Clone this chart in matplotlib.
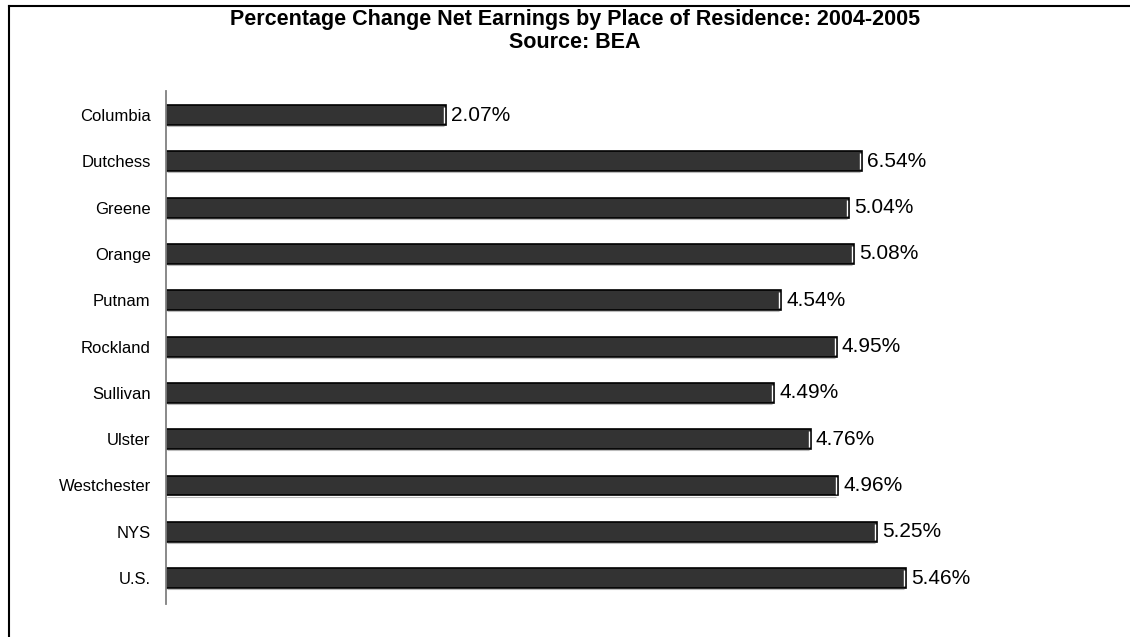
import matplotlib
matplotlib.use("Agg")
import matplotlib.pyplot as plt
from matplotlib.lines import Line2D

# ---- data ----
categories = ["Columbia", "Dutchess", "Greene", "Orange", "Putnam", "Rockland",
              "Sullivan", "Ulster", "Westchester", "NYS", "U.S."]
label_values = [2.07, 6.54, 5.04, 5.08, 4.54, 4.95, 4.49, 4.76, 4.96, 5.25, 5.46]
# drawn bar lengths as they appear in the picture (Dutchess bar is drawn shorter than its label)
bar_values = [2.07, 5.14, 5.04, 5.08, 4.54, 4.95, 4.49, 4.76, 4.96, 5.25, 5.46]
title_lines = ["Percentage Change Net Earnings by Place of Residence: 2004-2005", "Source: BEA"]

plt.rcParams['font.family'] = ['Liberation Sans', 'DejaVu Sans']

W, H = 1130, 637
fig = plt.figure(figsize=(W / 100, H / 100), dpi=100)
fig.patch.set_facecolor("white")

ax_left, ax_right, ax_top, ax_bottom = 166, 1100, 91, 604
ax = fig.add_axes([ax_left / W, 1 - ax_bottom / H, (ax_right - ax_left) / W, (ax_bottom - ax_top) / H])
ax.set_xlim(0, (ax_right - ax_left) / 135.5)
ax.set_ylim(10.56, -0.52)

ypos = list(range(len(categories)))
h = 0.43
ax.barh(ypos, bar_values, height=h, color="#333333", edgecolor="black", linewidth=1.2, zorder=2)

px = 1 / 135.5
for y, v, lab in zip(ypos, bar_values, label_values):
    # bevel highlight on right edge and bottom edge
    ax.plot([v - 2.2 * px, v - 2.2 * px], [y - h / 2 + 0.04, y + h / 2 - 0.04],
            color="white", lw=1.0, zorder=3, solid_capstyle="butt")
    ax.plot([0.01, v - 2.2 * px], [y + h / 2 + 0.025, y + h / 2 + 0.025],
            color="#bbbbbb", lw=0.8, zorder=3, solid_capstyle="butt")
    ax.text(v + 5 * px, y, f"{lab:.2f}%", va="center", ha="left", fontsize=15, color="black")

ax.set_yticks(ypos)
ax.set_yticklabels(categories, fontsize=12)
ax.tick_params(axis="y", length=0, pad=11)
ax.set_xticks([])
for s in ["top", "right", "bottom"]:
    ax.spines[s].set_visible(False)
ax.spines["left"].set_color("#808080")
ax.spines["left"].set_linewidth(1.3)

fig.text(575 / W, 1 - 19 / H, title_lines[0], ha="center", va="center",
         fontsize=15.5, fontweight="bold")
fig.text(575 / W, 1 - 42 / H, title_lines[1], ha="center", va="center",
         fontsize=15.5, fontweight="bold")

# outer chart border (right and bottom edges fall outside the image)
fig.add_artist(Line2D([8.5 / W, 8.5 / W], [0, 1 - 5.5 / H], transform=fig.transFigure,
                      color="black", lw=1.5))
fig.add_artist(Line2D([8.5 / W, 1], [1 - 5.5 / H, 1 - 5.5 / H], transform=fig.transFigure,
                      color="black", lw=1.5))

fig.savefig("out.png", dpi=100, facecolor="white")
